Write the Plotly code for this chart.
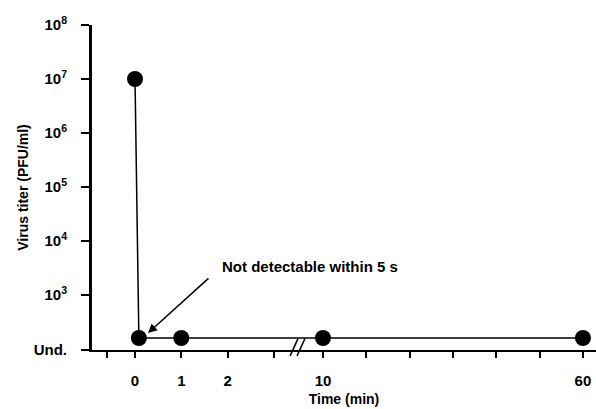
import plotly.graph_objects as go
import numpy as np

# ---- data ----
time_min = [0, 5/60, 1, 10, 60]          # sampling times (min)
UND = 160                                 # plotting level for "undetectable"
titer = [1e7, UND, UND, UND, UND]         # virus titer (PFU/ml)

y_tickvals = [96, 1e3, 1e4, 1e5, 1e6, 1e7, 1e8]
y_ticktext = ["Und.", "10<sup>3</sup>", "10<sup>4</sup>", "10<sup>5</sup>",
              "10<sup>6</sup>", "10<sup>7</sup>", "10<sup>8</sup>"]
x_tick_times = [-0.6, 0, 1, 2, 3, 10, 18.3, 26.7, 35, 43.3, 51.7, 60]
x_tick_text = ["", "0", "1", "2", "", "10", "", "", "", "", "", "60"]

# ---- broken time axis transform ----
LEFT_END = 3.5
P10 = 4.06
RIGHT_SCALE = 0.1123


def pos(t):
    t = np.asarray(t, dtype=float)
    return np.where(t <= LEFT_END, t, P10 + (t - 10) * RIGHT_SCALE)


FONT = "Liberation Sans Narrow, Liberation Sans, Arial"

fig = go.Figure()
fig.add_trace(go.Scatter(
    x=pos(time_min), y=titer, mode="lines+markers",
    line=dict(color="black", width=1.5),
    marker=dict(color="black", size=16),
    showlegend=False, cliponaxis=False,
))

# axis break marks
for x0 in (3.35, 3.50):
    fig.add_shape(type="line", xref="x", yref="paper",
                  x0=x0, x1=x0 + 0.17, y0=-0.018, y1=0.035,
                  line=dict(color="black", width=1.5))

fig.add_annotation(x=float(pos(0.28)), y=np.log10(198), xref="x", yref="y",
                   text="", showarrow=True, arrowhead=2, arrowsize=1.2,
                   arrowwidth=1.5, arrowcolor="black", ax=62, ay=-56)
fig.add_annotation(x=float(pos(1.84)), y=np.log10(1e3) + (295 - 266) / 54,
                   xref="x", yref="y", text="Not detectable within 5 s",
                   showarrow=False, xanchor="left", yanchor="middle",
                   font=dict(family=FONT, size=15, color="black", weight="bold"))

fig.update_layout(
    width=596, height=409,
    margin=dict(l=92, r=0, t=25, b=59),
    paper_bgcolor="white", plot_bgcolor="white",
    font=dict(family=FONT, size=15, color="black", weight="bold"),
    xaxis=dict(range=[-0.929, 9.957], showgrid=False, zeroline=False,
               automargin=False,
               showline=True, linecolor="black", linewidth=2,
               tickmode="array", tickvals=pos(x_tick_times).tolist(),
               ticktext=x_tick_text, ticks="outside", ticklen=6,
               tickwidth=1.5, tickcolor="black", ticklabelstandoff=10,
               title=dict(text="Time (min)", standoff=6,
                          font=dict(size=14))),
    yaxis=dict(type="log", range=[1.982, 8], showgrid=False, zeroline=False,
               automargin=False,
               showline=True, linecolor="black", linewidth=3,
               tickmode="array", tickvals=y_tickvals, ticktext=y_ticktext,
               ticks="outside", ticklen=8, tickwidth=1.5, tickcolor="black",
               ticklabelstandoff=11,
               title=dict(text="Virus titer (PFU/ml)", standoff=2,
                          font=dict(size=14))),
)

fig.write_html("out.html", config={"displayModeBar": False},
               post_script="document.body.style.margin='0';")
